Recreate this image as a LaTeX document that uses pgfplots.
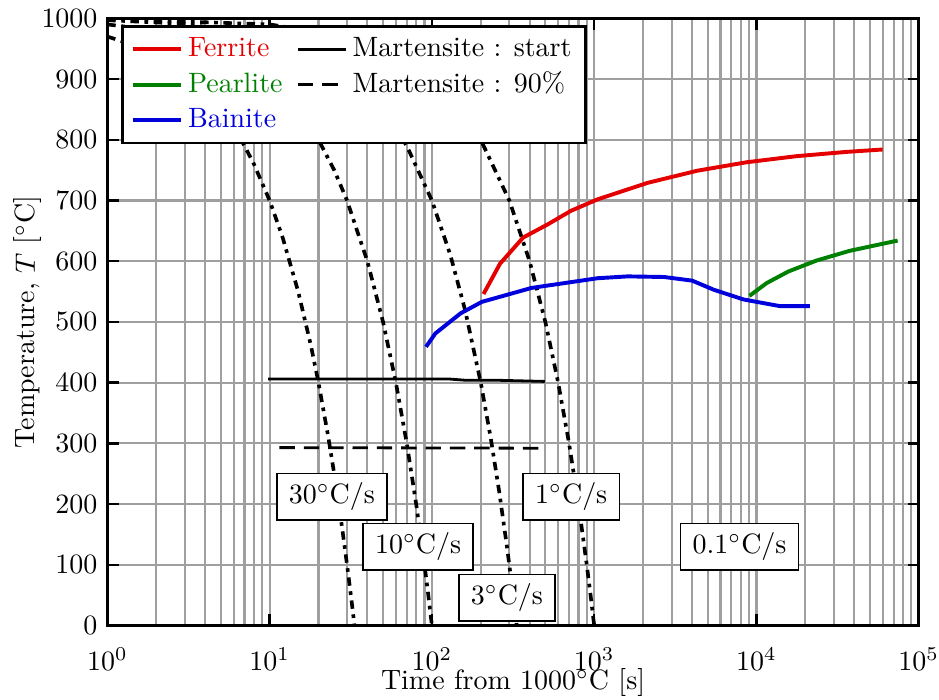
\documentclass[border=0pt]{standalone}
\usepackage{pgfplots}
\pgfplotsset{compat=1.18}

\definecolor{ferr}{RGB}{228,0,0}
\definecolor{pear}{RGB}{0,128,0}
\definecolor{bain}{RGB}{0,0,220}

\begin{document}
\begin{tikzpicture}
\begin{axis}[
    scale only axis,
    width=290pt,
    height=217pt,
    xmode=log,
    xmin=1, xmax=1e5,
    ymin=0, ymax=1000,
    ytick={0,100,...,1000},
    yticklabel style={/pgf/number format/1000 sep={}},
    xticklabel style={yshift=-4.5pt, inner xsep=0pt},
    xmajorgrids, xminorgrids, ymajorgrids,
    grid style={gray!75, line width=0.75pt},
    minor grid style={gray!75, line width=0.75pt},
    axis line style={line width=1pt},
    tick align=inside,
    major tick length=4pt,
    minor tick length=0pt,
    tick style={black, line width=0.9pt},
    xlabel={Time from 1000$^\circ$C [s]},
    ylabel={Temperature, $T$ [$^\circ$C]},
    xlabel style={yshift=5.3pt, inner ysep=1pt},
    ylabel style={inner ysep=5pt, yshift=-8.7pt},
    legend columns=2,
    legend cell align=left,
    legend style={at={(0.017,0.989)}, anchor=north west, draw=black,
        line width=0.9pt, fill=white,
        /tikz/every even column/.append style={column sep=3pt}},
]
% cooling curves (drawn first, below the legend)
\addplot[forget plot, black, line width=1.3pt, dash dot] coordinates {
    (1,970) (1.5,955) (2,940) (3,910) (4,880) (5,850) (6,820) (7,790) (8,760)
    (10,700) (12,640) (15,550) (18,460) (20,400) (23,310) (25,250) (26.67,200)
    (28,160) (30,100) (31.67,50) (32,40) (33.33,0)
};
\addplot[forget plot, black, line width=1.3pt, dash dot] coordinates {
    (1,990) (2,980) (3,970) (5,950) (7,930) (10,900) (15,850) (20,800) (25,750)
    (30,700) (40,600) (50,500) (60,400) (70,300) (80,200) (90,100) (95,50) (100,0)
};
\addplot[forget plot, black, line width=1.3pt, dash dot] coordinates {
    (1,997) (3,991) (10,970) (20,940) (30,910) (50,850) (70,790) (100,700)
    (130,610) (160,520) (200,400) (230,310) (260,220) (290,130) (310,70) (333.3,0)
};
\addplot[forget plot, black, line width=1.3pt, dash dot] coordinates {
    (1,999) (10,990) (30,970) (100,900) (150,850) (200,800) (300,700) (400,600)
    (500,500) (600,400) (700,300) (800,200) (900,100) (950,50) (1000,0)
};

% transformation curves, in legend order (row by row)
\addplot[ferr, line width=1.4pt] coordinates {
    (208,546) (263,596) (365,639) (520,661) (719,683) (1052,702) (2130,729)
    (4310,749) (8710,763) (17650,773) (35700,780) (59900,784)
};
\addlegendentry[text=ferr]{Ferrite}
\addplot[black, line width=1pt] coordinates {
    (9.8,406) (127,406) (160,404) (245,404) (496,402)
};
\addlegendentry{Martensite : start}
\addplot[pear, line width=1.4pt] coordinates {
    (9060,543) (11560,564) (15700,583) (23400,601) (37400,617) (74100,634)
};
\addlegendentry[text=pear]{Pearlite}
\addplot[black, line width=1pt, dash pattern=on 5.5pt off 3.2pt] coordinates {
    (11.5,293) (473,292)
};
\addlegendentry{Martensite : 90\%}
\addplot[bain, line width=1.4pt] coordinates {
    (92,459) (105,481) (150,514) (203,533) (411,556) (1052,572) (1607,575)
    (2694,574) (4017,568) (5455,553) (8320,537) (13960,526) (21300,526)
};
\addlegendentry[text=bain]{Bainite}

% cooling rate labels
\tikzset{rate/.style={draw=black, fill=white, line width=0.55pt,
    inner xsep=4.3pt, inner ysep=3.3pt}}
\node[rate] at (axis cs:24.2,212) {30$^\circ$C$/$s};
\node[rate] at (axis cs:82.2,130) {10$^\circ$C$/$s};
\node[rate] at (axis cs:290,46) {3$^\circ$C$/$s};
\node[rate] at (axis cs:722,212) {1$^\circ$C$/$s};
\node[rate] at (axis cs:7870,130) {0.1$^\circ$C$/$s};
\end{axis}
\end{tikzpicture}
\end{document}
